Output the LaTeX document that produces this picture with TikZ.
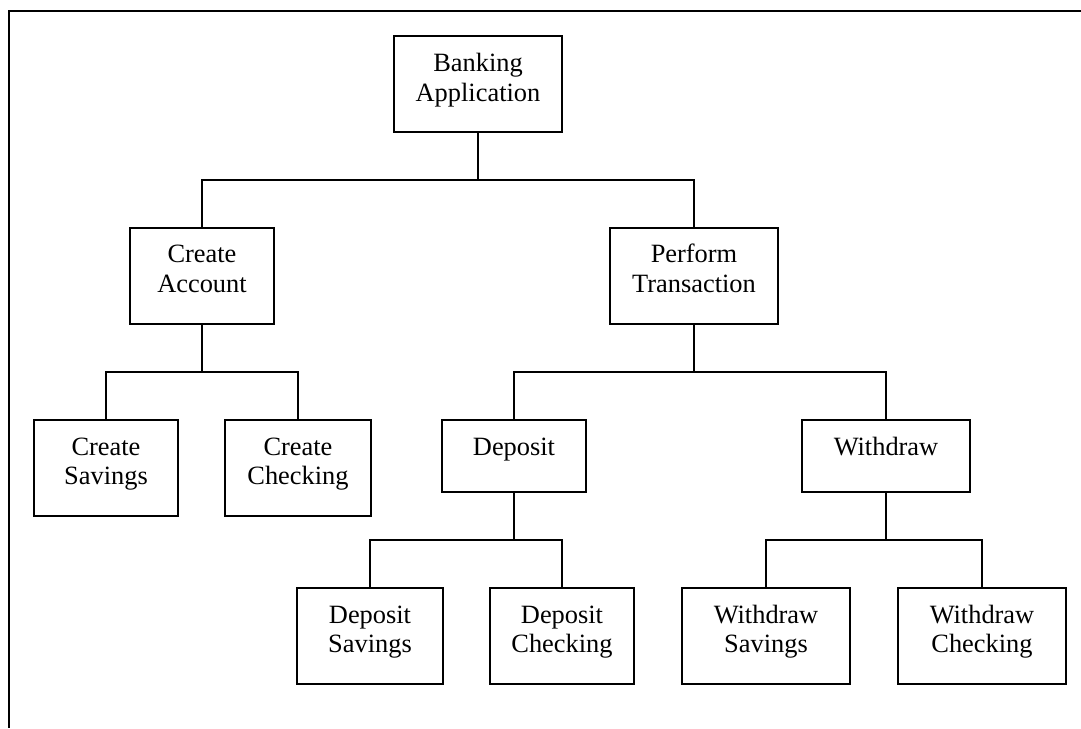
\documentclass[tikz,border=0pt]{standalone}
\usepackage{fontspec}
\setmainfont{Liberation Serif}
\begin{document}
\begin{tikzpicture}[x=1pt,y=-1pt,
  box/.style={draw=black, line width=2pt, inner sep=0pt, fill=white},
  lbl/.style={anchor=base, inner sep=0pt, font=\fontsize{26.4}{29.5}\selectfont},
  conn/.style={draw=black, line width=1.8pt},
  frameline/.style={draw=black, line width=2.4pt}]
\useasboundingbox (0,0) rectangle (1081,728);
% frame (top and left edges only, running off the picture)
\draw[frameline] (1081,11) -- (9,11) -- (9,728);

% boxes: centre, width, height from the reference
\node[box, minimum width=168pt, minimum height=96pt] (ba) at (478,84) {};
\node[box, minimum width=144pt, minimum height=96pt] (ca) at (202,276) {};
\node[box, minimum width=168pt, minimum height=96pt] (pt) at (694,276) {};
\node[box, minimum width=144pt, minimum height=96pt] (cs) at (106,468) {};
\node[box, minimum width=146pt, minimum height=96pt] (cc) at (298,468) {};
\node[box, minimum width=144pt, minimum height=72pt] (dep) at (514,456) {};
\node[box, minimum width=168pt, minimum height=72pt] (wd) at (886,456) {};
\node[box, minimum width=146pt, minimum height=96pt] (ds) at (370,636) {};
\node[box, minimum width=144pt, minimum height=96pt] (dc) at (562,636) {};
\node[box, minimum width=168pt, minimum height=96pt] (ws) at (766,636) {};
\node[box, minimum width=168pt, minimum height=96pt] (wc) at (982,636) {};

% labels
\node[lbl] (ba-t) at ([yshift=-36.5pt]ba.north) {\begin{tabular}[t]{@{}c@{}}Banking\\Application\end{tabular}};
\node[lbl] (ca-t) at ([yshift=-35.5pt]ca.north) {\begin{tabular}[t]{@{}c@{}}Create\\Account\end{tabular}};
\node[lbl] (pt-t) at ([yshift=-35.5pt]pt.north) {\begin{tabular}[t]{@{}c@{}}Perform\\Transaction\end{tabular}};
\node[lbl] (cs-t) at ([yshift=-36pt]cs.north) {\begin{tabular}[t]{@{}c@{}}Create\\Savings\end{tabular}};
\node[lbl] (cc-t) at ([yshift=-36pt]cc.north) {\begin{tabular}[t]{@{}c@{}}Create\\Checking\end{tabular}};
\node[lbl] (dep-t) at ([yshift=-36pt]dep.north) {Deposit};
\node[lbl] (wd-t) at ([yshift=-36pt]wd.north) {Withdraw};
\node[lbl] (ds-t) at ([yshift=-36pt]ds.north) {\begin{tabular}[t]{@{}c@{}}Deposit\\Savings\end{tabular}};
\node[lbl] (dc-t) at ([yshift=-36pt]dc.north) {\begin{tabular}[t]{@{}c@{}}Deposit\\Checking\end{tabular}};
\node[lbl] (ws-t) at ([yshift=-36pt]ws.north) {\begin{tabular}[t]{@{}c@{}}Withdraw\\Savings\end{tabular}};
\node[lbl] (wc-t) at ([yshift=-36pt]wc.north) {\begin{tabular}[t]{@{}c@{}}Withdraw\\Checking\end{tabular}};

% bar levels
\coordinate (bar1) at (0,180);
\coordinate (bar2) at (0,372);
\coordinate (bar3) at (0,540);

% connectors
\draw[conn] (ba.south) -- (ba.south |- bar1);
\draw[conn] (ca.north) |- (bar1 -| pt.north) -- (pt.north);

\draw[conn] (ca.south) -- (ca.south |- bar2);
\draw[conn] (cs.north) |- (bar2 -| cc.north) -- (cc.north);

\draw[conn] (pt.south) -- (pt.south |- bar2);
\draw[conn] (dep.north) |- (bar2 -| wd.north) -- (wd.north);

\draw[conn] (dep.south) -- (dep.south |- bar3);
\draw[conn] (ds.north) |- (bar3 -| dc.north) -- (dc.north);

\draw[conn] (wd.south) -- (wd.south |- bar3);
\draw[conn] (ws.north) |- (bar3 -| wc.north) -- (wc.north);
\end{tikzpicture}
\end{document}
